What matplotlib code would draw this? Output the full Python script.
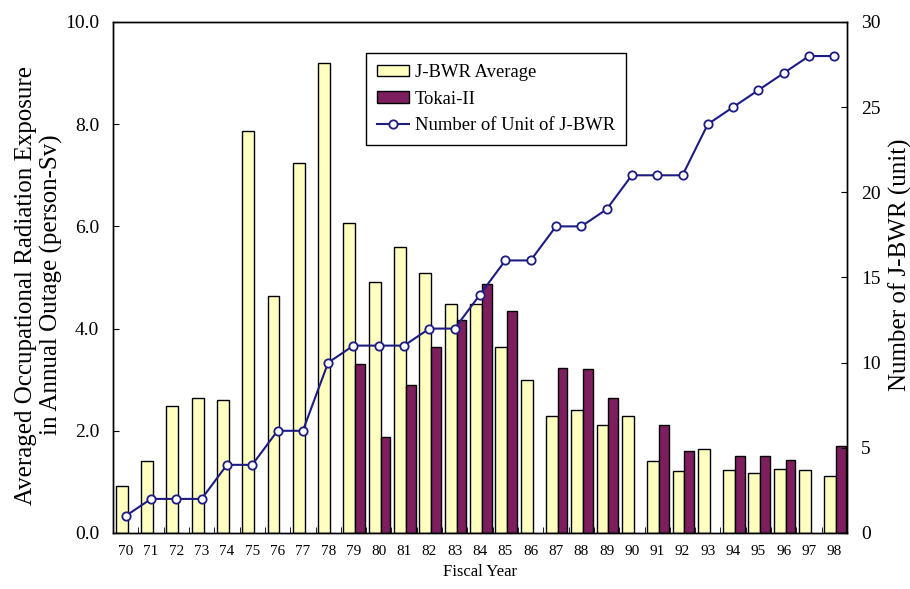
import matplotlib.pyplot as plt
import matplotlib.ticker as mticker
import numpy as np

plt.rcParams['font.family'] = ['Liberation Serif', 'DejaVu Serif']

years = [str(y) for y in range(70, 99)]
jbwr_avg = [0.92, 1.41, 2.48, 2.65, 2.60, 7.87, 4.63, 7.24, 9.19, 6.06,
            4.91, 5.60, 5.09, 4.49, 4.49, 3.64, 3.00, 2.29, 2.40, 2.12,
            2.29, 1.41, 1.22, 1.65, 1.23, 1.18, 1.26, 1.23, 1.12]
tokai2 = [np.nan] * 9 + [3.31, 1.88, 2.90, 3.64, 4.17, 4.88, 4.35, np.nan,
                         3.22, 3.20, 2.65, np.nan, 2.12, 1.60, np.nan, 1.51,
                         1.51, 1.43, np.nan, 1.70]
units = [1, 2, 2, 2, 4, 4, 6, 6, 10, 11, 11, 11, 12, 12, 14, 16, 16, 18, 18,
         19, 21, 21, 21, 24, 25, 26, 27, 28, 28]

x = np.arange(len(years))

fig = plt.figure(figsize=(9.1, 5.89), dpi=100)
ax = fig.add_axes([0.1242, 0.0951, 0.8066, 0.8676])
ax2 = ax.twinx()

b1 = ax.bar(x - 0.16, jbwr_avg, 0.47, color='#FFFFC0', edgecolor='black', linewidth=1,
            label='J-BWR Average', zorder=2)
b2 = ax.bar(x + 0.265, tokai2, 0.38, color='#7D1F5E', edgecolor='black', linewidth=1,
            label='Tokai-II', zorder=2)
ln, = ax2.plot(x, units, color='#1C1C84', linewidth=1.5, marker='o', markersize=6,
               markerfacecolor='white', markeredgecolor='#1C1C84',
               markeredgewidth=1.3, label='Number of Unit of J-BWR')

ax.set_xlim(-0.5, len(years) - 0.5)
ax.set_ylim(0, 10)
ax2.set_ylim(0, 30)
ax.set_yticks(np.arange(0, 10.1, 2))
ax.yaxis.set_major_formatter(mticker.FormatStrFormatter('%.1f'))
ax2.set_yticks(np.arange(0, 31, 5))

ax.set_xticks(x)
ax.set_xticklabels(years, fontsize=11)
ax.set_xticks(np.arange(0.5, len(years) - 1, 1), minor=True)
ax.tick_params(axis='x', which='major', length=0, pad=9)
ax.tick_params(axis='x', which='minor', direction='in', length=4)
ax.tick_params(axis='y', direction='in', labelsize=14, length=4, pad=10)
ax2.tick_params(axis='y', direction='in', labelsize=14, length=4, pad=10)

ax.set_xlabel('Fiscal Year', fontsize=12)
ax.set_ylabel('Averaged Occupational Radiation Exposure\nin Annual Outage (person-Sv)',
              fontsize=18, linespacing=1.15)
ax.yaxis.set_label_coords(-0.068, 0.485)
ax2.set_ylabel('Number of J-BWR (unit)', fontsize=18)
ax2.yaxis.set_label_coords(1.056, 0.524)

for a in (ax, ax2):
    for s in a.spines.values():
        s.set_linewidth(1)

leg = ax2.legend([b1, b2, ln], ['J-BWR Average', 'Tokai-II', 'Number of Unit of J-BWR'],
                 loc='upper left', bbox_to_anchor=(0.345, 0.939), borderaxespad=0,
                 fontsize=13.4, frameon=True, fancybox=False, edgecolor='black',
                 framealpha=1, handlelength=1.7, handleheight=0.55,
                 labelspacing=0.5, borderpad=0.6, handletextpad=0.3)
leg.get_frame().set_linewidth(1)

fig.savefig('out.png', dpi=100)
